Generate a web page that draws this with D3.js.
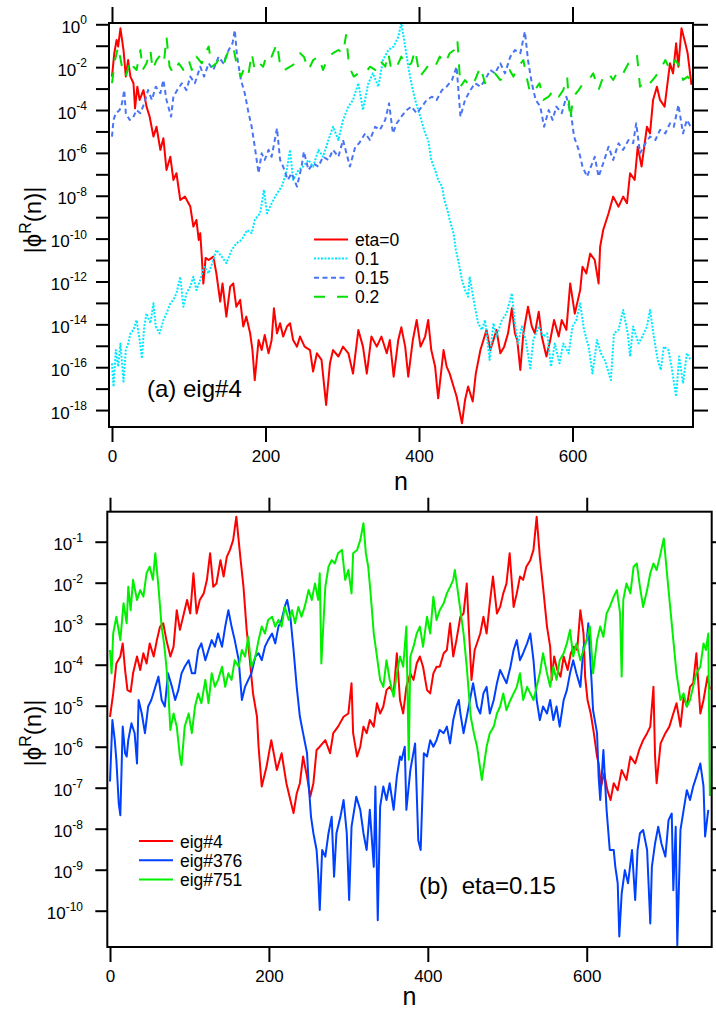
<!DOCTYPE html>
<html>
<head>
<meta charset="utf-8">
<script src="https://cdn.jsdelivr.net/npm/d3@7"></script>
<style>
  body { margin: 0; background: #fff; }
  svg { display: block; font-family: "Liberation Sans", Arial, sans-serif; }
</style>
</head>
<body>
<svg id="chart" width="716" height="1012"></svg>
<script>
// values are [n, log10 |phi^R(n)|]

// panel (a): eig#4 for several eta
const eta0 = [[0,-2.44],[3,-1.35],[6,-0.73],[8,-1.04],[11,-0.19],[15,-1.2],[18,-2.44],[21,-1.67],[24,-2.44],[28,-2.75],[30,-3.92],[33,-2.91],[36,-3.53],[41,-3.07],[45,-3.84],[49,-4.3],[54,-5.24],[58,-4.78],[63,-5.86],[67,-5.32],[71,-6.8],[76,-6.18],[80,-7.26],[84,-6.95],[89,-8.2],[95,-8.04],[102,-8.5],[106,-9.44],[110,-9.13],[113,-10.06],[115,-9.75],[117,-10.84],[119,-12.1],[122,-10.9],[126,-11.0],[132,-10.84],[136,-11.62],[141,-12.94],[144,-12.09],[149,-13.64],[154,-12.24],[158,-12.09],[162,-13.18],[167,-12.86],[171,-14.1],[175,-13.64],[180,-14.42],[183,-15.2],[186,-16.6],[191,-14.73],[195,-15.2],[199,-14.5],[204,-15.35],[208,-14.73],[211,-13.25],[215,-14.42],[219,-13.95],[223,-14.57],[228,-14.1],[232,-13.95],[236,-14.73],[241,-15.04],[245,-14.57],[251,-15.04],[258,-15.2],[262,-16.2],[267,-15.35],[273,-15.66],[279,-17.76],[284,-15.82],[288,-15.2],[295,-15.5],[301,-15.04],[308,-15.35],[314,-16.3],[321,-14.26],[327,-15.04],[332,-16.3],[338,-14.57],[345,-15.04],[351,-14.57],[358,-15.35],[362,-14.73],[367,-16.44],[373,-14.73],[377,-14.14],[382,-15.04],[386,-16.44],[392,-14.73],[397,-13.8],[402,-15.04],[408,-14.57],[412,-13.8],[416,-15.2],[421,-15.97],[425,-17.45],[432,-15.2],[436,-15.97],[440,-16.3],[445,-16.9],[449,-17.37],[456,-18.62],[460,-17.53],[464,-16.9],[470,-17.6],[474,-16.3],[480,-15.2],[484,-14.73],[488,-14.26],[493,-15.2],[497,-14.73],[501,-14.26],[506,-15.35],[511,-15.04],[516,-14.42],[521,-13.25],[525,-14.42],[528,-14.73],[532,-16.13],[536,-14.42],[542,-13.18],[547,-14.1],[551,-14.42],[556,-13.41],[560,-14.57],[566,-15.5],[571,-14.73],[576,-13.8],[582,-14.57],[586,-13.8],[592,-14.26],[597,-12.09],[603,-13.5],[610,-12.4],[613,-11.31],[618,-11.62],[623,-10.7],[629,-11.0],[634,-12.09],[636,-10.38],[640,-9.6],[647,-8.82],[653,-8.04],[660,-8.51],[666,-8.04],[671,-8.35],[675,-6.95],[681,-7.26],[685,-5.71],[690,-6.64],[697,-4.78],[701,-5.09],[705,-3.53],[710,-2.91],[714,-3.53],[720,-3.84],[727,-1.82],[731,-2.29],[735,-0.89],[738,-1.98],[742,-0.19],[747,-0.89],[750,-1.35],[755,-2.83]]

const eta01 = [[0,-15.82],[2,-16.91],[5,-15.2],[8,-15.97],[11,-14.9],[15,-16.67],[18,-15.2],[21,-14.9],[24,-14.42],[28,-14.26],[32,-13.8],[36,-14.73],[39,-15.59],[42,-14.1],[45,-13.49],[50,-13.95],[54,-13.02],[57,-14.1],[62,-14.42],[67,-13.8],[71,-13.49],[76,-13.02],[80,-12.86],[84,-12.55],[89,-11.78],[93,-13.18],[97,-12.55],[102,-12.24],[106,-11.78],[110,-12.4],[115,-11.93],[120,-11.31],[126,-11.62],[132,-11.0],[136,-10.53],[143,-10.84],[149,-11.15],[156,-10.53],[162,-10.22],[169,-10.06],[176,-9.6],[182,-9.75],[186,-9.13],[193,-8.82],[198,-7.73],[202,-8.82],[208,-8.35],[215,-7.89],[221,-7.57],[227,-6.95],[232,-5.86],[236,-7.26],[243,-6.8],[249,-6.64],[256,-6.33],[262,-6.64],[269,-5.86],[275,-6.18],[282,-5.4],[288,-4.78],[295,-5.4],[301,-4.47],[308,-3.84],[314,-3.53],[321,-2.75],[327,-4.0],[334,-2.75],[340,-2.29],[347,-2.91],[353,-1.67],[360,-1.2],[367,-1.04],[373,-0.58],[377,0.05],[382,-1.04],[386,-1.98],[390,-2.75],[395,-3.53],[399,-4.0],[403,-4.47],[408,-5.09],[412,-5.4],[416,-6.33],[421,-6.8],[425,-7.26],[430,-7.57],[433,-8.2],[437,-8.66],[440,-9.13],[445,-9.75],[448,-10.53],[451,-11.0],[456,-11.93],[460,-12.4],[464,-12.71],[466,-11.78],[472,-13.02],[477,-13.95],[482,-14.26],[486,-13.8],[489,-14.73],[492,-15.66],[497,-13.95],[501,-14.57],[508,-13.8],[514,-13.49],[521,-12.55],[525,-13.95],[529,-14.89],[534,-14.1],[539,-14.73],[545,-16.05],[549,-14.73],[556,-14.1],[562,-14.57],[567,-14.42],[572,-15.97],[577,-14.89],[583,-15.82],[588,-14.89],[595,-15.35],[600,-14.1],[605,-13.8],[610,-13.02],[615,-14.26],[621,-15.04],[626,-16.29],[632,-14.73],[637,-15.35],[642,-15.66],[650,-16.6],[654,-14.42],[660,-14.26],[666,-13.33],[672,-14.42],[675,-15.5],[679,-14.1],[686,-14.89],[691,-14.57],[697,-14.1],[701,-13.33],[706,-14.57],[711,-15.66],[715,-16.13],[719,-15.04],[725,-15.2],[729,-15.97],[735,-17.37],[739,-15.5],[744,-16.75],[749,-15.35],[754,-15.66]]

const eta015 = [[0,-5.24],[2,-4.46],[5,-4.15],[10,-4.0],[13,-3.69],[16,-3.07],[18,-4.15],[23,-4.46],[27,-4.39],[32,-4.0],[37,-4.15],[42,-3.69],[47,-3.07],[52,-3.53],[57,-2.91],[63,-3.22],[67,-2.6],[71,-3.53],[77,-4.31],[80,-3.38],[85,-3.07],[91,-2.75],[97,-3.07],[102,-2.44],[108,-2.75],[115,-1.98],[120,-2.44],[126,-1.82],[132,-2.13],[139,-1.51],[145,-1.82],[152,-1.2],[157,-0.89],[160,-0.27],[163,-1.51],[168,-2.6],[173,-3.22],[178,-4.15],[182,-4.78],[186,-5.71],[191,-6.95],[195,-6.02],[199,-6.33],[204,-5.86],[208,-6.18],[215,-4.85],[219,-6.33],[223,-6.64],[229,-7.26],[234,-6.95],[241,-7.57],[247,-6.64],[250,-5.94],[256,-6.8],[262,-6.49],[269,-6.64],[275,-6.18],[282,-6.33],[288,-5.86],[295,-6.18],[301,-5.4],[310,-6.64],[317,-5.71],[322,-5.55],[330,-5.09],[336,-5.4],[343,-4.78],[349,-4.93],[356,-4.46],[361,-3.69],[366,-5.09],[371,-4.62],[377,-4.31],[384,-4.0],[390,-3.84],[397,-4.15],[404,-3.84],[410,-3.53],[417,-3.38],[423,-3.53],[430,-3.07],[436,-2.91],[443,-2.6],[449,-1.98],[454,-4.31],[460,-3.53],[467,-3.07],[473,-2.75],[480,-2.91],[486,-2.6],[493,-2.13],[499,-2.29],[506,-1.82],[512,-2.29],[519,-1.51],[525,-1.2],[532,-1.35],[538,-0.34],[542,-1.67],[547,-2.75],[552,-3.53],[558,-3.84],[563,-4.78],[569,-4.0],[574,-4.46],[579,-3.84],[586,-4.15],[592,-3.38],[598,-4.15],[602,-5.24],[608,-5.86],[613,-6.64],[619,-7.11],[624,-6.64],[629,-6.18],[634,-7.11],[640,-6.49],[647,-5.71],[653,-6.33],[660,-5.55],[666,-5.86],[673,-5.4],[679,-5.55],[683,-4.62],[688,-6.02],[695,-5.55],[701,-5.24],[708,-5.4],[714,-4.93],[721,-5.09],[727,-4.62],[732,-4.78],[738,-3.76],[744,-5.09],[749,-4.46],[754,-4.78]]

const eta02 = [[0,-2.75],[4,-1.67],[8,-1.04],[13,-1.98],[18,-2.44],[24,-1.67],[28,-1.98],[32,-2.13],[37,-1.2],[40,-2.13],[45,-1.82],[50,-1.2],[53,-2.13],[58,-1.67],[65,-1.35],[68,-1.67],[71,-0.58],[75,-1.98],[80,-2.29],[87,-1.82],[93,-2.13],[100,-1.67],[104,-2.13],[110,-1.51],[117,-1.82],[121,-1.35],[126,-1.04],[130,-1.98],[136,-1.82],[141,-1.51],[146,-1.82],[152,-1.2],[158,-1.04],[163,-1.98],[168,-2.44],[173,-1.98],[178,-2.29],[182,-1.35],[186,-2.13],[192,-1.82],[197,-1.98],[202,-1.35],[208,-1.51],[215,-0.89],[220,-2.13],[225,-2.13],[232,-1.98],[239,-1.82],[245,-1.35],[250,-1.51],[256,-2.13],[262,-1.67],[269,-1.51],[275,-2.13],[282,-1.51],[288,-1.35],[295,-1.2],[301,-1.35],[305,-0.5],[309,-1.98],[315,-2.44],[321,-2.29],[330,-2.29],[336,-1.98],[343,-2.13],[349,-1.67],[356,-1.98],[360,-1.35],[364,-2.13],[371,-1.98],[377,-1.51],[384,-1.98],[390,-1.82],[395,-1.2],[401,-2.44],[408,-2.13],[414,-1.82],[421,-1.98],[427,-1.51],[434,-1.82],[440,-1.35],[446,-1.2],[450,-0.73],[454,-2.91],[460,-2.6],[467,-2.91],[473,-2.6],[480,-1.98],[486,-2.75],[493,-2.44],[499,-2.29],[506,-2.6],[512,-2.44],[518,-2.13],[523,-2.44],[529,-1.98],[536,-1.67],[540,-2.44],[545,-3.22],[551,-3.07],[557,-2.75],[562,-3.53],[569,-3.38],[575,-3.07],[582,-3.38],[588,-3.07],[593,-2.44],[597,-4.46],[601,-3.38],[608,-3.07],[614,-2.75],[621,-2.6],[627,-2.29],[634,-3.07],[640,-2.44],[647,-2.29],[653,-2.6],[660,-2.13],[666,-2.29],[673,-1.82],[679,-1.67],[684,-1.43],[688,-2.91],[695,-2.6],[701,-2.75],[708,-2.44],[714,-2.13],[721,-1.67],[727,-2.13],[734,-1.67],[740,-1.98],[744,-2.6],[750,-2.44],[755,-2.67]]

// panel (b): eta = 0.15, three eigenvectors
const eig4 = [[0,-5.27],[4,-4.7],[8,-3.97],[13,-3.8],[16,-3.48],[19,-4.13],[22,-4.62],[26,-4.66],[29,-4.21],[34,-3.8],[38,-4.13],[42,-3.72],[46,-3.97],[50,-3.48],[55,-3.8],[59,-3.4],[63,-3.07],[67,-2.99],[71,-3.4],[76,-3.8],[80,-3.56],[84,-2.67],[88,-3.15],[92,-2.83],[97,-2.42],[101,-2.75],[105,-1.77],[109,-2.75],[113,-2.42],[118,-2.26],[122,-1.93],[126,-1.28],[130,-2.1],[134,-2.02],[139,-1.45],[143,-1.85],[147,-1.37],[151,-1.2],[155,-0.96],[159,-0.39],[164,-1.37],[168,-2.1],[172,-3.15],[176,-3.89],[180,-4.7],[185,-5.27],[187,-6.0],[191,-6.97],[197,-6.49],[203,-5.84],[210,-6.57],[216,-6.16],[222,-6.89],[227,-7.3],[231,-7.62],[235,-7.14],[239,-6.89],[243,-6.24],[248,-6.73],[252,-7.22],[256,-6.89],[260,-6.08],[264,-6.0],[271,-5.84],[277,-6.16],[281,-5.67],[287,-5.51],[294,-5.27],[300,-5.19],[304,-4.45],[306,-5.67],[311,-6.24],[315,-6.0],[319,-5.51],[323,-5.67],[327,-5.35],[332,-5.51],[336,-4.94],[340,-5.19],[344,-5.02],[348,-4.62],[352,-4.54],[357,-4.7],[361,-3.72],[365,-4.86],[369,-5.19],[373,-4.54],[378,-4.21],[382,-4.37],[386,-3.97],[390,-3.8],[394,-4.05],[399,-4.62],[403,-4.7],[407,-4.21],[411,-4.05],[415,-4.05],[420,-3.72],[424,-3.64],[428,-2.99],[432,-3.8],[436,-3.4],[441,-2.83],[445,-2.75],[449,-2.02],[452,-3.24],[455,-4.37],[459,-3.64],[466,-3.24],[470,-2.83],[474,-3.24],[478,-2.5],[482,-1.85],[487,-2.75],[491,-2.59],[495,-2.26],[499,-2.02],[503,-1.28],[508,-2.59],[512,-2.26],[516,-1.85],[520,-1.93],[524,-1.61],[529,-1.45],[533,-1.2],[537,-0.39],[541,-1.37],[545,-2.1],[550,-3.07],[554,-3.56],[556,-4.37],[559,-3.8],[563,-4.13],[567,-4.29],[571,-3.8],[576,-4.13],[580,-3.72],[584,-3.56],[588,-3.64],[592,-2.67],[596,-3.24],[598,-4.29],[601,-4.86],[605,-5.19],[609,-5.67],[613,-6.24],[615,-6.41],[618,-6.97],[622,-6.65],[626,-7.06],[630,-7.3],[634,-6.89],[639,-7.06],[644,-6.57],[650,-6.81],[655,-6.24],[661,-6.41],[666,-6.08],[671,-5.84],[676,-5.67],[680,-5.51],[684,-4.54],[686,-6.24],[688,-6.89],[693,-5.92],[699,-5.67],[704,-5.51],[709,-5.19],[713,-4.94],[718,-5.51],[722,-4.78],[726,-5.02],[730,-4.54],[734,-4.45],[738,-3.72],[743,-5.19],[747,-4.86],[752,-4.29],[755,-4.6]]

const eig376 = [[0,-6.85],[3,-5.35],[6,-5.84],[8,-6.32],[11,-7.38],[13,-7.67],[16,-5.51],[19,-6.16],[21,-6.24],[23,-5.84],[27,-5.43],[31,-5.67],[34,-6.41],[36,-4.86],[40,-5.19],[44,-5.67],[48,-5.02],[52,-4.86],[57,-4.54],[61,-4.29],[65,-4.86],[69,-5.02],[73,-4.21],[78,-4.54],[82,-4.86],[86,-4.62],[90,-4.21],[94,-4.05],[99,-3.89],[103,-4.21],[107,-4.21],[111,-3.64],[115,-3.48],[120,-3.89],[124,-3.64],[128,-3.4],[132,-3.56],[136,-3.24],[141,-3.56],[145,-3.07],[149,-2.67],[153,-3.07],[157,-3.4],[162,-3.89],[166,-4.86],[170,-4.54],[174,-4.37],[178,-4.21],[183,-3.8],[187,-3.72],[191,-3.89],[195,-3.56],[199,-3.4],[204,-3.24],[208,-3.48],[212,-3.07],[216,-2.91],[220,-2.58],[223,-2.42],[227,-2.83],[231,-3.64],[235,-4.54],[239,-5.27],[243,-5.67],[248,-6.16],[250,-6.89],[253,-7.71],[256,-8.11],[260,-8.52],[262,-9.09],[264,-9.98],[267,-8.52],[271,-8.68],[275,-8.11],[279,-7.71],[282,-9.17],[285,-8.11],[290,-7.71],[294,-7.3],[298,-8.11],[301,-9.74],[304,-7.95],[310,-7.22],[315,-7.54],[319,-8.11],[323,-8.52],[327,-7.54],[332,-8.93],[334,-6.97],[337,-10.23],[340,-7.46],[344,-6.97],[348,-7.3],[352,-6.89],[357,-7.54],[361,-6.73],[365,-6.24],[367,-6.32],[371,-6.0],[373,-7.54],[378,-6.57],[384,-5.92],[388,-8.28],[391,-8.52],[395,-6.16],[399,-6.24],[403,-5.84],[407,-6.0],[411,-5.84],[415,-5.59],[420,-5.67],[424,-5.51],[428,-5.92],[432,-5.35],[436,-5.02],[439,-4.86],[441,-5.19],[445,-5.67],[449,-5.27],[453,-4.86],[457,-4.45],[462,-5.02],[466,-5.19],[470,-4.7],[474,-4.54],[478,-5.19],[483,-4.86],[487,-4.45],[491,-4.13],[495,-4.29],[499,-4.45],[504,-4.05],[508,-3.64],[512,-3.4],[516,-3.89],[520,-3.72],[525,-3.48],[529,-3.24],[533,-3.89],[537,-4.86],[541,-5.35],[545,-5.02],[550,-5.19],[554,-4.86],[558,-5.35],[562,-5.02],[566,-5.51],[571,-4.86],[575,-4.62],[579,-4.21],[583,-3.89],[587,-4.21],[592,-4.54],[596,-3.56],[600,-3.4],[602,-2.99],[604,-3.72],[606,-4.37],[608,-5.11],[613,-5.67],[615,-6.73],[617,-7.3],[621,-6.08],[625,-7.54],[629,-8.52],[634,-8.52],[636,-8.93],[639,-9.33],[641,-10.63],[644,-9.58],[648,-9.01],[652,-9.33],[657,-8.52],[661,-9.74],[664,-8.52],[667,-8.11],[671,-8.03],[676,-8.52],[680,-10.31],[682,-8.93],[686,-8.36],[690,-7.95],[694,-8.36],[699,-8.68],[703,-7.79],[707,-7.63],[709,-9.5],[712,-7.95],[714,-10.84],[718,-8.03],[722,-7.54],[726,-7.06],[730,-7.3],[734,-6.97],[738,-6.73],[743,-6.41],[747,-6.97],[749,-8.19],[753,-7.54]]

const eig751 = [[0,-3.64],[2,-4.21],[4,-3.24],[8,-2.83],[13,-3.4],[17,-2.5],[21,-2.99],[23,-2.1],[26,-2.67],[29,-1.93],[34,-2.42],[38,-2.18],[42,-2.34],[46,-1.77],[50,-1.61],[54,-1.93],[57,-1.28],[61,-2.1],[65,-3.07],[68,-3.48],[71,-4.05],[73,-4.54],[76,-5.59],[80,-5.19],[84,-5.51],[88,-6.24],[90,-6.45],[94,-5.51],[99,-5.19],[103,-5.67],[107,-5.02],[111,-4.7],[115,-4.94],[120,-4.37],[124,-4.94],[128,-4.21],[132,-4.54],[136,-4.37],[141,-4.05],[145,-4.54],[149,-4.21],[153,-4.37],[157,-3.89],[162,-4.05],[166,-3.64],[170,-3.8],[174,-3.32],[178,-4.05],[183,-3.8],[187,-3.4],[191,-3.07],[195,-3.24],[199,-2.91],[204,-2.83],[208,-3.07],[212,-2.91],[216,-3.07],[220,-2.59],[225,-2.91],[229,-2.67],[233,-2.99],[237,-2.59],[241,-2.83],[245,-2.59],[250,-2.18],[254,-2.42],[258,-2.02],[262,-2.42],[264,-1.77],[266,-3.97],[271,-2.1],[275,-1.61],[279,-1.45],[283,-1.53],[287,-1.28],[292,-1.2],[296,-1.93],[300,-1.69],[304,-2.26],[306,-1.28],[311,-1.2],[315,-0.96],[319,-0.55],[322,-1.28],[325,-1.61],[328,-2.26],[332,-3.24],[336,-3.8],[340,-4.37],[344,-4.54],[348,-3.89],[352,-4.37],[357,-4.78],[361,-4.21],[365,-3.8],[369,-4.05],[373,-3.07],[376,-6.32],[378,-3.8],[382,-3.56],[386,-3.24],[390,-3.07],[394,-3.56],[399,-2.83],[403,-3.24],[407,-2.34],[411,-2.91],[415,-2.67],[420,-2.5],[424,-2.26],[428,-2.1],[432,-1.93],[434,-1.69],[437,-2.1],[441,-2.67],[445,-3.24],[449,-4.05],[451,-4.54],[454,-5.27],[458,-5.67],[462,-6.0],[468,-6.81],[474,-6.0],[478,-5.67],[483,-5.51],[487,-5.19],[491,-5.02],[495,-4.7],[499,-5.11],[504,-4.86],[508,-4.7],[512,-4.54],[516,-4.21],[520,-4.86],[525,-4.54],[529,-4.7],[533,-4.86],[537,-4.54],[541,-4.21],[545,-3.72],[550,-4.21],[554,-4.54],[558,-4.05],[562,-4.37],[566,-3.89],[571,-3.72],[575,-3.48],[579,-3.15],[583,-3.8],[587,-3.48],[592,-3.89],[596,-3.64],[600,-3.4],[604,-3.07],[608,-4.21],[613,-3.4],[617,-3.07],[621,-3.32],[625,-2.75],[629,-2.59],[634,-2.34],[638,-2.18],[642,-2.75],[644,-4.29],[646,-2.42],[650,-2.02],[655,-2.26],[659,-1.61],[663,-1.53],[667,-2.1],[671,-2.59],[676,-2.18],[680,-1.77],[684,-1.53],[688,-1.69],[692,-1.37],[697,-0.92],[701,-1.77],[705,-2.59],[709,-3.4],[713,-4.21],[718,-4.86],[722,-4.7],[726,-5.02],[730,-4.86],[734,-4.54],[738,-4.21],[743,-4.05],[747,-3.48],[750,-3.64],[753,-3.24],[755,-7.2]]

const xTicks = [0, 200, 400, 600]
const labelsA = ['eta=0', '0.1', '0.15', '0.2']
const labelsB = ['eig#4', 'eig#376', 'eig#751']

const svg = d3.select('#chart')
svg.append('rect').attr('width', 716).attr('height', 1012).attr('fill', '#fff')

const drawPanel = (p) => {
  const x = d3.scaleLinear().domain(p.xDomain).range([p.left, p.right])
  const y = d3.scaleLog().domain([Math.pow(10, p.eMin), Math.pow(10, p.eMax)]).range([p.bottom, p.top])
  const decades = d3.range(Math.ceil(p.eMin), Math.floor(p.eMax) + 1)
  const tickVals = decades.map(e => Math.pow(10, e))

  const g = svg.append('g')

  const clipId = 'clip-' + p.name
  g.append('clipPath').attr('id', clipId)
    .append('rect')
    .attr('x', p.left).attr('y', p.top)
    .attr('width', p.right - p.left).attr('height', p.bottom - p.top)

  const line = d3.line()
    .x(d => x(d[0]))
    .y(d => y(Math.pow(10, d[1])))

  const plot = g.append('g').attr('clip-path', 'url(#' + clipId + ')')
  p.series.forEach(s => {
    plot.append('path')
      .datum(s.data)
      .attr('fill', 'none')
      .attr('stroke', s.color)
      .attr('stroke-width', s.width)
      .attr('stroke-dasharray', s.dash)
      .attr('stroke-linejoin', 'round')
      .attr('d', line)
  })

  // axes (ticks only, labels added by hand for superscripts)
  const styleAxis = sel => {
    sel.select('.domain').remove()
    sel.selectAll('line').attr('stroke', '#000').attr('stroke-width', 2)
  }
  g.append('g')
    .attr('transform', 'translate(' + p.left + ',0)')
    .call(d3.axisLeft(y).tickValues(tickVals).tickSize(p.tickLeft).tickFormat(''))
    .call(styleAxis)
  g.append('g')
    .attr('transform', 'translate(' + p.right + ',0)')
    .call(d3.axisRight(y).tickValues(tickVals).tickSize(p.tickRight).tickFormat(''))
    .call(styleAxis)
  g.append('g')
    .attr('transform', 'translate(0,' + p.top + ')')
    .call(d3.axisTop(x).tickValues(xTicks).tickSize(p.tickTop).tickFormat(''))
    .call(styleAxis)
  const bottomAxis = g.append('g')
    .attr('transform', 'translate(0,' + p.bottom + ')')
    .call(d3.axisBottom(x).tickValues(xTicks).tickSize(p.tickBottom).tickPadding(8).tickFormat(d3.format('d')))
    .call(styleAxis)
  bottomAxis.selectAll('text')
    .attr('fill', '#000')
    .attr('font-size', 17)
    .attr('font-family', '"Liberation Sans", Arial, sans-serif')

  // y tick labels: 10 with exponent
  decades.filter(e => p.labelEvery === 1 || e % 2 === 0).forEach(e => {
    const t = g.append('text')
      .attr('x', p.labelX)
      .attr('y', y(Math.pow(10, e)) + 8.5)
      .attr('text-anchor', 'end')
      .attr('fill', '#000')
    t.append('tspan').attr('font-size', 17).text('10')
    t.append('tspan').attr('font-size', 12).attr('dy', -8.5).text(e === 0 ? '0' : '-' + Math.abs(e))
  })

  // frame
  g.append('rect')
    .attr('x', p.left).attr('y', p.top)
    .attr('width', p.right - p.left).attr('height', p.bottom - p.top)
    .attr('fill', 'none').attr('stroke', '#000').attr('stroke-width', 2)

  // axis titles
  g.append('text')
    .attr('x', (p.left + p.right) / 2)
    .attr('y', p.xTitleY)
    .attr('text-anchor', 'middle')
    .attr('font-size', 25)
    .text('n')

  const yt = g.append('text')
    .attr('transform', 'translate(41,' + p.yTitleY + ') rotate(-90)')
    .attr('text-anchor', 'middle')
    .attr('font-size', 24)
  yt.append('tspan').text('|\u03d5')
  yt.append('tspan').attr('font-size', 16).attr('dy', -10).text('R')
  yt.append('tspan').attr('dy', 10).text('(n)|')

  // legend
  p.series.forEach((s, i) => {
    const ly = p.legendY + i * p.legendStep
    g.append('line')
      .attr('x1', p.legendX).attr('x2', p.legendX + 34)
      .attr('y1', ly).attr('y2', ly)
      .attr('stroke', s.color).attr('stroke-width', s.width)
      .attr('stroke-dasharray', s.dash)
    g.append('text')
      .attr('x', p.legendX + 41).attr('y', ly + 6.5)
      .attr('font-size', 17.5)
      .text(s.label)
  })

  g.append('text')
    .attr('x', p.noteX).attr('y', p.noteY)
    .attr('font-size', 24)
    .attr('xml:space', 'preserve')
    .style('white-space', 'pre')
    .text(p.note)
}

drawPanel({
  name: 'a',
  left: 109, right: 693, top: 23, bottom: 427,
  xDomain: [-3.9, 757], eMin: -18.79, eMax: 0.06,
  tickLeft: 13, tickRight: 15, tickTop: 16, tickBottom: 15,
  labelEvery: 2, labelX: 87,
  xTitleY: 490, yTitleY: 220,
  legendX: 314, legendY: 239.5, legendStep: 19.1,
  noteX: 147, noteY: 397, note: '(a) eig#4',
  series: [
    { data: eta0, color: '#ff0000', width: 2, dash: null, label: labelsA[0] },
    { data: eta01, color: '#00e8ff', width: 2, dash: '2,1.5', label: labelsA[1] },
    { data: eta015, color: '#4a74f6', width: 2, dash: '5,3.5', label: labelsA[2] },
    { data: eta02, color: '#00e000', width: 2, dash: '11,12', label: labelsA[3] }
  ]
})

drawPanel({
  name: 'b',
  left: 107.3, right: 711.7, top: 511.7, bottom: 947,
  xDomain: [-3.4, 757.3], eMin: -10.885, eMax: -0.268,
  tickLeft: 12, tickRight: 12, tickTop: 14, tickBottom: 15,
  labelEvery: 1, labelX: 83,
  xTitleY: 1005, yTitleY: 733,
  legendX: 139, legendY: 841, legendStep: 19.3,
  noteX: 419, noteY: 894, note: '(b)  eta=0.15',
  series: [
    { data: eig4, color: '#ff0000', width: 2, dash: null, label: labelsB[0] },
    { data: eig376, color: '#0040ff', width: 2, dash: null, label: labelsB[1] },
    { data: eig751, color: '#00f000', width: 2, dash: null, label: labelsB[2] }
  ]
})
</script>
</body>
</html>
